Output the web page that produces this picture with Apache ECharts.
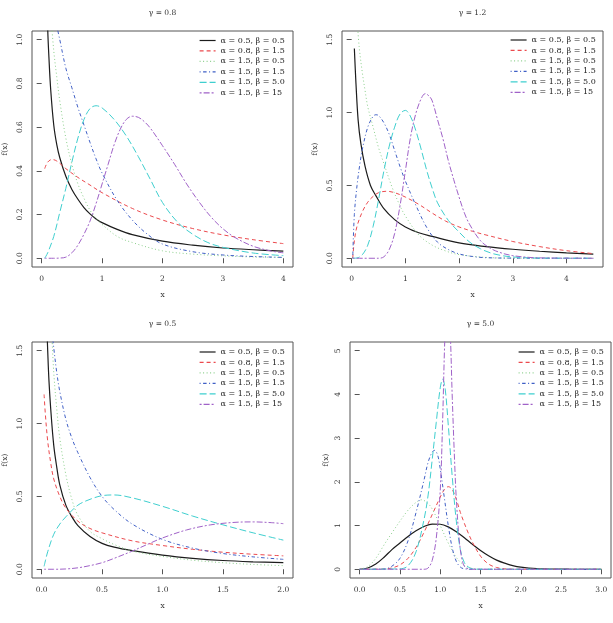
<!DOCTYPE html>
<html lang="en">
<head>
  <meta charset="UTF-8">
  <title>f(x)</title>
  <script src="https://cdn.jsdelivr.net/npm/echarts@6/dist/echarts.min.js"></script>
  <style>
    html, body { margin: 0; padding: 0; background: #fff; }
    #main { width: 613px; height: 623px; }
  </style>
</head>
<body>
<div id="main"></div>
<script>
  // legend labels and panel titles
  var seriesNames = ['α = 0.5, β = 0.5', 'α = 0.8, β = 1.5', 'α = 1.5, β = 0.5', 'α = 1.5, β = 1.5', 'α = 1.5, β = 5.0', 'α = 1.5, β = 15'];
  var panelTitles = ['γ = 0.8', 'γ = 1.2', 'γ = 0.5', 'γ = 5.0'];

  // tick labels
  var xTicks08 = [0, 1, 2, 3, 4];
  var yTicks08 = [0, 0.2, 0.4, 0.6, 0.8, 1.0];
  var xTicks12 = [0, 1, 2, 3, 4];
  var yTicks12 = [0, 0.5, 1.0, 1.5];
  var xTicks05 = [0, 0.5, 1.0, 1.5, 2.0];
  var yTicks05 = [0, 0.5, 1.0, 1.5];
  var xTicks50 = [0, 0.5, 1.0, 1.5, 2.0, 2.5, 3.0];
  var yTicks50 = [0, 1, 2, 3, 4, 5];

  // gamma = 0.8
  var g08_a05b05 = [[0.08,1.3],[0.1,1.05],[0.12,0.92],[0.15,0.77],[0.2,0.61],[0.25,0.52],[0.3,0.46],[0.4,0.375],[0.5,0.315],[0.6,0.27],[0.7,0.232],[0.8,0.203],[0.9,0.18],[1.0,0.163],[1.25,0.132],[1.5,0.108],[2.0,0.078],[2.5,0.06],[3.0,0.047],[3.5,0.039],[4.0,0.033]];
  var g08_a08b15 = [[0.05,0.41],[0.1,0.44],[0.17,0.452],[0.25,0.445],[0.4,0.41],[0.6,0.37],[0.8,0.335],[1.0,0.3],[1.5,0.228],[2.0,0.175],[2.5,0.136],[3.0,0.107],[3.5,0.085],[4.0,0.067]];
  var g08_a15b05 = [[0.15,1.12],[0.2,0.95],[0.25,0.83],[0.3,0.72],[0.4,0.55],[0.5,0.43],[0.6,0.34],[0.7,0.275],[0.8,0.22],[0.9,0.183],[1.0,0.155],[1.25,0.1],[1.5,0.072],[2.0,0.034],[2.5,0.019],[3.0,0.011],[3.5,0.006],[4.0,0.004]];
  var g08_a15b15 = [[0.22,1.1],[0.3,1.0],[0.4,0.87],[0.5,0.78],[0.6,0.69],[0.7,0.61],[0.8,0.53],[0.9,0.455],[1.0,0.39],[1.25,0.265],[1.5,0.175],[1.75,0.11],[2.0,0.065],[2.5,0.03],[3.0,0.015],[3.5,0.008],[4.0,0.004]];
  var g08_a15b50 = [[0.05,0],[0.1,0.025],[0.2,0.1],[0.3,0.21],[0.4,0.32],[0.5,0.44],[0.6,0.55],[0.7,0.635],[0.8,0.685],[0.9,0.698],[1.0,0.688],[1.2,0.635],[1.4,0.56],[1.6,0.465],[1.8,0.36],[2.0,0.255],[2.25,0.165],[2.5,0.11],[2.75,0.072],[3.0,0.05],[3.5,0.024],[4.0,0.012]];
  var g08_a15b150 = [[0.05,0],[0.2,0],[0.3,0.001],[0.4,0.005],[0.5,0.025],[0.6,0.06],[0.7,0.11],[0.8,0.17],[0.9,0.25],[1.0,0.34],[1.1,0.43],[1.2,0.52],[1.3,0.59],[1.4,0.635],[1.5,0.65],[1.6,0.645],[1.7,0.625],[1.8,0.595],[2.0,0.515],[2.2,0.43],[2.4,0.34],[2.6,0.26],[2.8,0.19],[3.0,0.135],[3.2,0.095],[3.5,0.055],[3.8,0.033],[4.0,0.025]];

  // gamma = 1.2
  var g12_a05b05 = [[0.05,1.44],[0.08,1.2],[0.12,0.95],[0.17,0.79],[0.25,0.63],[0.35,0.5],[0.45,0.43],[0.6,0.34],[0.8,0.265],[1.0,0.215],[1.25,0.175],[1.5,0.15],[2.0,0.105],[2.5,0.08],[3.0,0.062],[3.5,0.048],[4.0,0.037],[4.5,0.029]];
  var g12_a08b15 = [[0.02,0],[0.05,0.12],[0.1,0.22],[0.2,0.32],[0.3,0.385],[0.4,0.425],[0.5,0.45],[0.65,0.46],[0.8,0.45],[1.0,0.42],[1.25,0.37],[1.5,0.31],[1.75,0.255],[2.0,0.215],[2.25,0.185],[2.5,0.16],[3.0,0.115],[3.5,0.08],[4.0,0.052],[4.5,0.032]];
  var g12_a15b05 = [[0.1,1.65],[0.14,1.45],[0.2,1.27],[0.25,1.15],[0.3,1.04],[0.4,0.9],[0.5,0.76],[0.6,0.65],[0.75,0.49],[0.9,0.36],[1.0,0.29],[1.25,0.16],[1.5,0.09],[1.75,0.05],[2.0,0.025],[2.5,0.006],[3.0,0.001],[4.5,0]];
  var g12_a15b15 = [[0.02,0],[0.05,0.3],[0.1,0.5],[0.15,0.64],[0.2,0.75],[0.3,0.9],[0.4,0.975],[0.45,0.985],[0.5,0.98],[0.6,0.93],[0.7,0.85],[0.8,0.74],[0.9,0.63],[1.0,0.53],[1.2,0.36],[1.4,0.21],[1.6,0.11],[1.8,0.06],[2.0,0.03],[2.25,0.012],[2.5,0.004],[3.0,0.001],[4.5,0]];
  var g12_a15b50 = [[0.02,0],[0.1,0.002],[0.2,0.025],[0.3,0.09],[0.4,0.22],[0.5,0.4],[0.6,0.6],[0.7,0.77],[0.8,0.9],[0.9,0.99],[1.0,1.015],[1.1,0.97],[1.2,0.87],[1.3,0.74],[1.4,0.6],[1.5,0.48],[1.6,0.38],[1.8,0.26],[2.0,0.18],[2.2,0.11],[2.4,0.065],[2.6,0.035],[2.8,0.018],[3.0,0.009],[3.5,0.001],[4.5,0]];
  var g12_a15b150 = [[0.02,0],[0.5,0],[0.6,0.01],[0.7,0.06],[0.8,0.17],[0.9,0.36],[1.0,0.6],[1.1,0.84],[1.2,1.0],[1.3,1.1],[1.37,1.13],[1.45,1.11],[1.5,1.08],[1.6,0.95],[1.7,0.82],[1.8,0.67],[1.9,0.54],[2.0,0.42],[2.1,0.31],[2.2,0.23],[2.4,0.12],[2.6,0.065],[2.8,0.035],[3.0,0.018],[3.3,0.006],[3.6,0.002],[4.5,0]];

  // gamma = 0.5
  var g05_a05b05 = [[0.045,1.62],[0.05,1.5],[0.06,1.3],[0.075,1.1],[0.1,0.85],[0.125,0.7],[0.15,0.58],[0.2,0.44],[0.25,0.36],[0.3,0.3],[0.4,0.225],[0.5,0.178],[0.6,0.152],[0.75,0.128],[1.0,0.097],[1.25,0.075],[1.5,0.06],[1.75,0.051],[2.0,0.045]];
  var g05_a08b15 = [[0.02,1.2],[0.03,1.07],[0.05,0.88],[0.075,0.73],[0.1,0.62],[0.15,0.5],[0.2,0.42],[0.3,0.33],[0.4,0.28],[0.5,0.25],[0.75,0.195],[1.0,0.163],[1.25,0.137],[1.5,0.117],[1.75,0.103],[2.0,0.092]];
  var g05_a15b05 = [[0.085,1.6],[0.1,1.35],[0.125,1.1],[0.15,0.9],[0.2,0.65],[0.25,0.48],[0.3,0.37],[0.4,0.26],[0.5,0.21],[0.6,0.17],[0.75,0.125],[1.0,0.088],[1.25,0.062],[1.5,0.045],[1.75,0.033],[2.0,0.025]];
  var g05_a15b15 = [[0.09,1.6],[0.1,1.52],[0.125,1.35],[0.15,1.22],[0.2,1.03],[0.25,0.9],[0.3,0.8],[0.4,0.63],[0.5,0.5],[0.6,0.41],[0.75,0.31],[1.0,0.205],[1.25,0.145],[1.5,0.108],[1.75,0.085],[2.0,0.068]];
  var g05_a15b50 = [[0.02,0.02],[0.05,0.12],[0.1,0.24],[0.15,0.31],[0.2,0.36],[0.3,0.44],[0.4,0.48],[0.5,0.505],[0.6,0.51],[0.75,0.49],[1.0,0.432],[1.25,0.365],[1.5,0.305],[1.75,0.25],[2.0,0.2]];
  var g05_a15b150 = [[0.02,0],[0.1,0],[0.2,0.002],[0.3,0.01],[0.4,0.025],[0.5,0.045],[0.6,0.075],[0.75,0.125],[0.9,0.18],[1.0,0.215],[1.2,0.27],[1.4,0.305],[1.6,0.322],[1.75,0.325],[1.9,0.32],[2.0,0.313]];

  // gamma = 5.0
  var g50_a05b05 = [[0.0,0],[0.1,0.03],[0.2,0.12],[0.3,0.27],[0.4,0.45],[0.5,0.6],[0.6,0.75],[0.7,0.88],[0.8,0.98],[0.9,1.035],[1.0,1.03],[1.1,0.97],[1.2,0.86],[1.3,0.72],[1.4,0.57],[1.5,0.43],[1.6,0.31],[1.7,0.21],[1.8,0.14],[1.9,0.085],[2.0,0.05],[2.2,0.015],[2.4,0.004],[2.6,0.001],[3.0,0]];
  var g50_a08b15 = [[0.0,0],[0.3,0.005],[0.4,0.03],[0.5,0.1],[0.6,0.25],[0.7,0.5],[0.8,0.85],[0.9,1.25],[1.0,1.65],[1.05,1.82],[1.1,1.89],[1.15,1.82],[1.2,1.6],[1.25,1.3],[1.3,1.05],[1.35,0.82],[1.4,0.62],[1.5,0.3],[1.6,0.12],[1.7,0.04],[1.8,0.01],[2.0,0],[3.0,0]];
  var g50_a15b05 = [[0.0,0],[0.1,0.06],[0.2,0.25],[0.3,0.55],[0.4,0.83],[0.5,1.1],[0.6,1.35],[0.7,1.53],[0.77,1.59],[0.85,1.5],[0.9,1.38],[1.0,1.0],[1.1,0.6],[1.2,0.27],[1.3,0.09],[1.4,0.02],[1.5,0.003],[1.7,0],[3.0,0]];
  var g50_a15b15 = [[0.0,0],[0.3,0.005],[0.4,0.07],[0.5,0.25],[0.6,0.65],[0.7,1.3],[0.8,2.05],[0.85,2.45],[0.9,2.68],[0.93,2.72],[0.97,2.6],[1.0,2.3],[1.05,1.65],[1.1,1.0],[1.15,0.48],[1.2,0.18],[1.25,0.05],[1.3,0.01],[1.4,0],[3.0,0]];
  var g50_a15b50 = [[0.0,0],[0.5,0.01],[0.6,0.08],[0.7,0.4],[0.8,1.15],[0.85,1.7],[0.9,2.5],[0.95,3.35],[1.0,4.15],[1.03,4.35],[1.06,4.15],[1.1,3.3],[1.15,2.1],[1.2,1.1],[1.25,0.45],[1.3,0.15],[1.35,0.05],[1.4,0.01],[1.5,0],[3.0,0]];
  var g50_a15b150 = [[0.0,0],[0.8,0],[0.85,0.03],[0.9,0.2],[0.95,0.7],[1.0,1.8],[1.03,3.4],[1.06,5.4],[1.09,6.2],[1.12,5.6],[1.15,3.9],[1.18,2.4],[1.2,1.6],[1.24,0.6],[1.28,0.15],[1.32,0.03],[1.4,0],[3.0,0]];

  var lineColors = ['#1c1c1c', '#ec4a4e', '#8ccf8c', '#4060c6', '#3fcfcf', '#a062c8'];
  var lineDashes = ['solid', [4, 3], [1, 2.5], [1, 2.5, 3.5, 2.5], [7, 3], [2, 2, 6, 2]];
  var fontName = 'DejaVu Serif';

  var panels = [
    { title: panelTitles[0], left: 32, top: 31, xmin: -0.16, xmax: 4.16, ymin: -0.04, ymax: 1.04,
      xt: xTicks08, yt: yTicks08, xdec: 0, ydec: 1, legendLeft: 199, legendTop: 35.5, yNameGap: 23,
      curves: [g08_a05b05, g08_a08b15, g08_a15b05, g08_a15b15, g08_a15b50, g08_a15b150] },
    { title: panelTitles[1], left: 342, top: 31, xmin: -0.18, xmax: 4.68, ymin: -0.06, ymax: 1.56,
      xt: xTicks12, yt: yTicks12, xdec: 0, ydec: 1, legendLeft: 510, legendTop: 35, yNameGap: 23,
      curves: [g12_a05b05, g12_a08b15, g12_a15b05, g12_a15b15, g12_a15b50, g12_a15b150] },
    { title: panelTitles[2], left: 32, top: 342, xmin: -0.08, xmax: 2.08, ymin: -0.06, ymax: 1.56,
      xt: xTicks05, yt: yTicks05, xdec: 1, ydec: 1, legendLeft: 199, legendTop: 347, yNameGap: 23,
      curves: [g05_a05b05, g05_a08b15, g05_a15b05, g05_a15b15, g05_a15b50, g05_a15b150] },
    { title: panelTitles[3], left: 350, top: 342, xmin: -0.12, xmax: 3.12, ymin: -0.2, ymax: 5.2,
      xt: xTicks50, yt: yTicks50, xdec: 1, ydec: 0, legendLeft: 518, legendTop: 347, yNameGap: 20,
      curves: [g50_a05b05, g50_a08b15, g50_a15b05, g50_a15b15, g50_a15b50, g50_a15b150] }
  ];

  var grids = [], xAxes = [], yAxes = [], series = [], legends = [], texts = [];
  var W = 261, H = 236;

  panels.forEach(function (p, i) {
    grids.push({ left: p.left, top: p.top, width: W, height: H, show: true,
      borderColor: '#555', borderWidth: 1, backgroundColor: 'transparent' });

    xAxes.push({
      gridIndex: i, type: 'value', min: p.xmin, max: p.xmax, position: 'bottom',
      axisLine: { show: false }, splitLine: { show: false },
      axisTick: { show: true, length: 5, lineStyle: { color: '#555' }, customValues: p.xt },
      axisLabel: { customValues: p.xt, margin: 8, color: '#333', fontSize: 7.5, fontFamily: fontName,
        formatter: (function (d) { return function (v) { return v.toFixed(d); }; })(p.xdec) },
      name: 'x', nameLocation: 'middle', nameGap: 24,
      nameTextStyle: { color: '#333', fontSize: 7.5, fontFamily: fontName }
    });

    yAxes.push({
      gridIndex: i, type: 'value', min: p.ymin, max: p.ymax, position: 'left',
      axisLine: { show: false }, splitLine: { show: false },
      axisTick: { show: true, length: 5, lineStyle: { color: '#555' }, customValues: p.yt },
      axisLabel: { customValues: p.yt, margin: 8, rotate: 90, color: '#333', fontSize: 7.5, fontFamily: fontName,
        formatter: (function (d) { return function (v) { return v.toFixed(d); }; })(p.ydec) },
      name: 'f(x)', nameLocation: 'middle', nameGap: p.yNameGap,
      nameTextStyle: { color: '#333', fontSize: 7.5, fontFamily: fontName }
    });

    p.curves.forEach(function (c, k) {
      series.push({
        name: seriesNames[k], type: 'line', xAxisIndex: i, yAxisIndex: i,
        data: c, symbol: 'none', showSymbol: false, smooth: 0.35, clip: true,
        lineStyle: { color: lineColors[k], width: k === 0 ? 1.2 : 1, type: lineDashes[k] },
        itemStyle: { color: lineColors[k] },
        emphasis: { disabled: true }
      });
    });

    // line-only legend keys: hide the marker drawn on top of the line sample
    legends.push({
      data: seriesNames, orient: 'vertical', left: p.legendLeft, top: p.legendTop,
      itemWidth: 16, itemHeight: 10, itemGap: 0.46, selectedMode: false, padding: 0,
      itemStyle: { opacity: 0, borderWidth: 0 },
      lineStyle: { width: 1.2 },
      textStyle: { fontSize: 8, lineHeight: 10, color: '#222', fontFamily: fontName }
    });

    texts.push({
      type: 'text', x: p.left + W / 2, y: p.top - 18,
      style: { text: p.title, fill: '#333', font: '7.5px "DejaVu Serif"',
        textAlign: 'center', textVerticalAlign: 'middle' }
    });
  });

  var myChart = echarts.init(document.getElementById('main'), null, { renderer: 'canvas' });
  myChart.setOption({
    animation: false,
    backgroundColor: '#fff',
    grid: grids,
    xAxis: xAxes,
    yAxis: yAxes,
    legend: legends,
    series: series,
    graphic: texts
  });
</script>
</body>
</html>
